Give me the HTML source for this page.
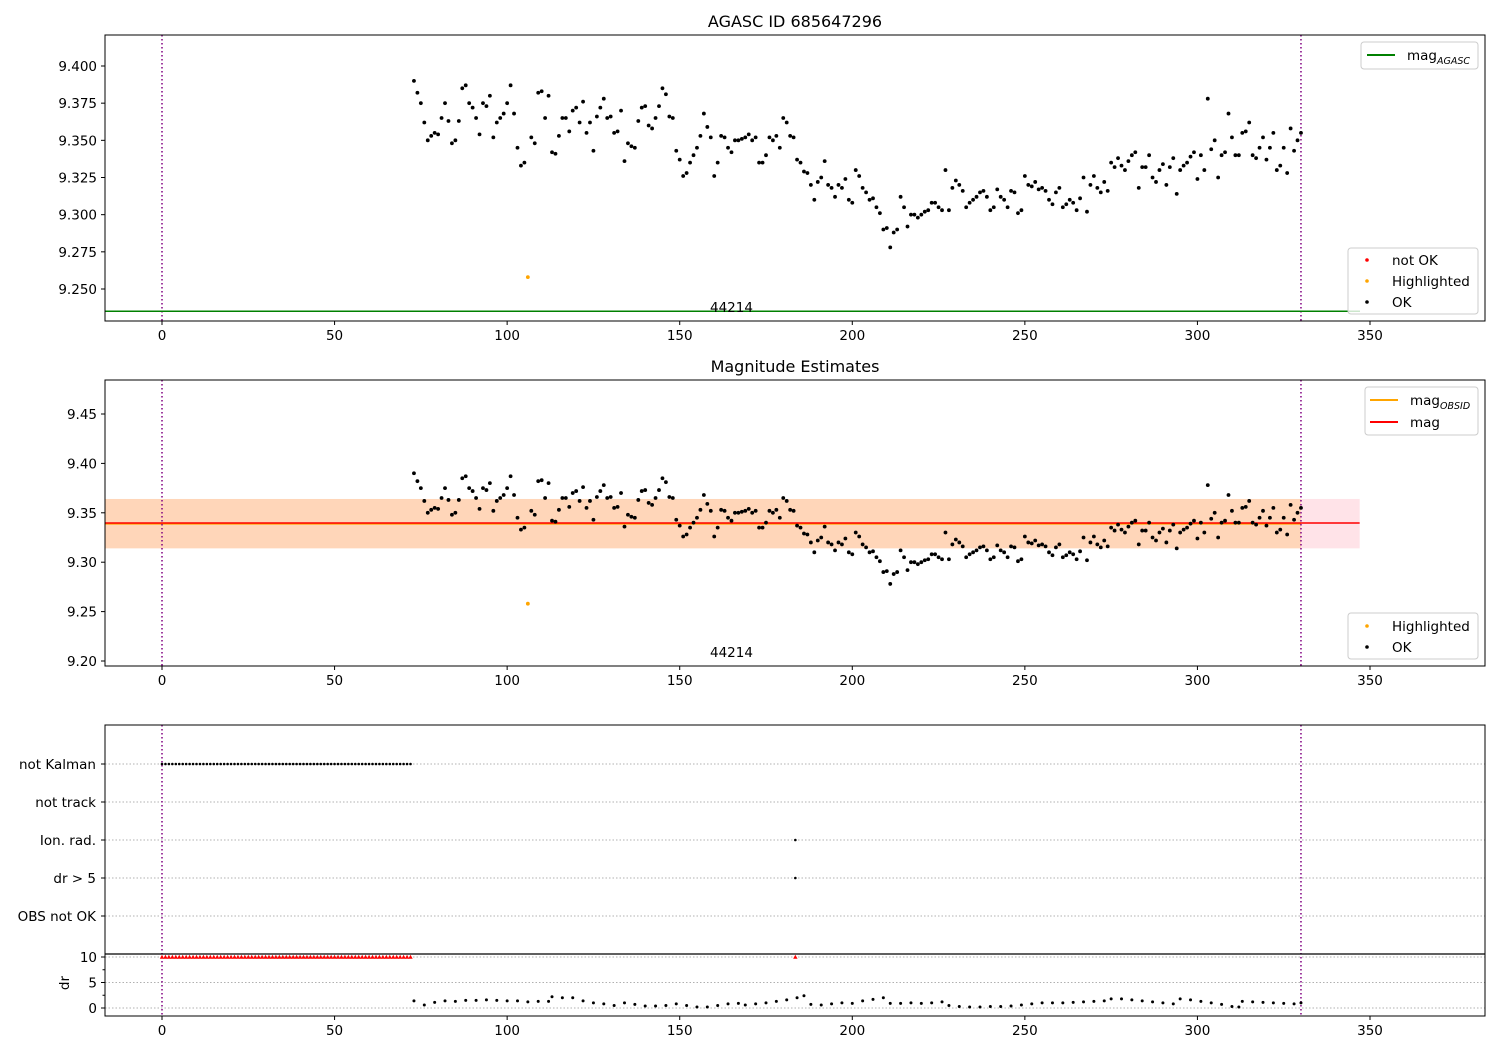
<!DOCTYPE html>
<html><head><meta charset="utf-8"><style>
body{margin:0;background:#fff}
svg{font-family:"DejaVu Sans","Liberation Sans",sans-serif;display:block}
</style></head><body>
<svg id="c" width="1500" height="1050" xmlns="http://www.w3.org/2000/svg"></svg>
<script>
const magTimes=[73,75,77,79,81,83,85,87,89,91,93,95,97,99,101,103,105,107,109,111,113,115,117,119,121,123,125,127,129,131,133,135,137,139,141,143,145,147,149,151,153,155,157,159,161,163,165,167,169,171,173,175,177,179,181,183,185,187,189,191,193,195,197,199,201,203,205,207,209,211,213,215,217,219,221,223,225,227,229,231,233,235,237,239,241,243,245,247,249,251,253,255,257,259,261,263,265,267,269,271,273,275,277,279,281,283,285,287,289,291,293,295,297,299,301,303,305,307,309,311,313,315,317,319,321,323,325,327,329];
const magValues=[9.390,9.375,9.350,9.355,9.365,9.363,9.350,9.385,9.375,9.365,9.375,9.380,9.362,9.368,9.387,9.345,9.335,9.352,9.382,9.365,9.342,9.353,9.365,9.370,9.362,9.355,9.343,9.372,9.365,9.355,9.370,9.348,9.345,9.372,9.360,9.365,9.385,9.366,9.343,9.326,9.335,9.345,9.368,9.352,9.335,9.352,9.342,9.350,9.352,9.350,9.335,9.340,9.350,9.345,9.362,9.352,9.335,9.328,9.310,9.325,9.320,9.312,9.318,9.310,9.330,9.318,9.310,9.305,9.290,9.278,9.290,9.305,9.300,9.298,9.302,9.308,9.305,9.330,9.318,9.320,9.305,9.310,9.315,9.312,9.305,9.312,9.305,9.315,9.303,9.320,9.322,9.318,9.310,9.315,9.305,9.310,9.303,9.325,9.320,9.318,9.322,9.335,9.338,9.330,9.340,9.318,9.332,9.325,9.330,9.320,9.338,9.330,9.335,9.342,9.340,9.378,9.350,9.340,9.368,9.340,9.355,9.362,9.338,9.352,9.345,9.330,9.345,9.358,9.350];
const magTimes2=[74,76,78,80,82,84,86,88,90,92,94,96,98,100,102,104,108,110,112,114,116,118,120,122,124,126,128,130,132,134,136,138,140,142,144,146,148,150,152,154,156,158,160,162,164,166,168,170,172,174,176,178,180,182,184,186,188,190,192,194,196,198,200,202,204,206,208,210,212,214,216,218,220,222,224,226,228,230,232,234,236,238,240,242,244,246,248,250,252,254,256,258,260,262,264,266,268,270,272,274,276,278,280,282,284,286,288,290,292,294,296,298,300,302,304,306,308,310,312,314,316,318,320,322,324,326,328,330];
const magValues2=[9.382,9.362,9.353,9.354,9.375,9.348,9.363,9.387,9.372,9.354,9.373,9.352,9.365,9.375,9.368,9.333,9.348,9.383,9.380,9.341,9.365,9.356,9.372,9.376,9.362,9.366,9.378,9.366,9.356,9.336,9.346,9.363,9.373,9.358,9.373,9.381,9.365,9.337,9.328,9.340,9.353,9.359,9.326,9.353,9.345,9.350,9.351,9.354,9.352,9.335,9.352,9.353,9.365,9.353,9.337,9.329,9.320,9.322,9.336,9.318,9.320,9.324,9.308,9.326,9.315,9.311,9.301,9.291,9.288,9.312,9.292,9.300,9.300,9.303,9.308,9.303,9.303,9.323,9.316,9.308,9.312,9.316,9.303,9.317,9.310,9.316,9.301,9.326,9.319,9.317,9.316,9.307,9.318,9.307,9.308,9.311,9.302,9.326,9.315,9.316,9.332,9.333,9.336,9.342,9.332,9.340,9.322,9.334,9.332,9.314,9.333,9.339,9.324,9.330,9.344,9.325,9.342,9.352,9.340,9.356,9.340,9.345,9.337,9.355,9.333,9.328,9.343,9.355];
const hlTimes=[106], hlValues=[9.258];
const drTimes=[73,76,79,82,85,88,91,94,97,100,103,106,109,112,113,116,119,122,125,128,131,134,137,140,143,146,149,152,155,158,161,164,167,169,172,175,178,181,184,186,188,191,194,197,200,203,206,209,211,214,217,220,223,226,228,231,234,237,240,243,246,249,252,255,258,261,264,267,270,273,275,278,281,284,287,290,293,295,298,301,304,307,310,312,313,316,319,322,325,328,330];
const drValues=[1.4,0.6,1.1,1.4,1.3,1.5,1.5,1.6,1.5,1.4,1.4,1.2,1.3,1.3,2.2,2.0,2.0,1.4,1.0,0.8,0.5,1.0,0.7,0.4,0.4,0.5,0.8,0.5,0.2,0.2,0.5,0.8,0.9,0.6,0.8,1.0,1.3,1.6,2.0,2.4,0.7,0.6,0.8,1.0,0.9,1.4,1.7,2.0,0.9,0.9,1.0,0.9,1.0,1.2,0.5,0.3,0.2,0.2,0.3,0.3,0.4,0.6,0.8,1.0,1.0,1.0,1.1,1.2,1.3,1.4,1.8,1.8,1.6,1.4,1.2,1.0,0.8,1.8,1.6,1.3,1.0,0.7,0.3,0.2,1.3,1.2,1.1,1.0,0.9,0.8,1.0];
const flagLabels=["not Kalman","not track","Ion. rad.","dr > 5","OBS not OK"];
const xTicks=[0,50,100,150,200,250,300,350];
const yTicks1=[9.250,9.275,9.300,9.325,9.350,9.375,9.400];
const yTicks2=[9.20,9.25,9.30,9.35,9.40,9.45];
const drTicks=[0,5,10];
const magAgasc=9.235, magMean=9.3397, magObsid=9.339, bandLo=9.314, bandHi=9.364, bandEnd=347;
const obsStart=0, obsEnd=330, obsid="44214";

const svg=document.getElementById('c');
const NS="http://www.w3.org/2000/svg";
function mk(t,a,p){const e=document.createElementNS(NS,t);for(const k in a)e.setAttribute(k,a[k]);(p||svg).appendChild(e);return e;}
const X0=105,X1=1485;
const xs=v=>162+v*(1370-162)/350;
function lin(d0,d1,p0,p1){return v=>p0+(v-d0)*(p1-p0)/(d1-d0);}
const y1=lin(9.250,9.400,289,66);
const y2=lin(9.20,9.45,661,414);
const yd=lin(0,10,1008,957);
const flagY=[764,802,840,878,916];
const FS=13.5;

function xaxis(yb){
  xTicks.forEach(t=>{const g=mk('g',{});
    mk('line',{x1:xs(t),x2:xs(t),y1:yb,y2:yb+4,stroke:'#000'},g);
    const tx=mk('text',{x:xs(t),y:yb+19,'font-size':FS,'text-anchor':'middle'},g);tx.textContent=t;});
}
function yaxisTicks(ticks,f,fmt,name){
  ticks.forEach(t=>{const g=mk('g',{});
    mk('line',{x1:X0-4,x2:X0,y1:f(t),y2:f(t),stroke:'#000'},g);
    const tx=mk('text',{x:X0-8,y:f(t)+5,'font-size':FS,'text-anchor':'end'},g);tx.textContent=fmt(t);});
}
function frame(top,bot,name){const r=mk('rect',{x:X0,y:top,width:X1-X0,height:bot-top,fill:'none',stroke:'#000','stroke-width':1});}
function vlines(top,bot){[obsStart,obsEnd].forEach(t=>{const l=mk('line',{x1:xs(t),x2:xs(t),y1:top,y2:bot,stroke:'#800080','stroke-width':1.5,'stroke-dasharray':'1.5,2.5'});});}
function dots(times,vals,f,col,r,name){const g=mk('g',{});
  times.forEach((t,i)=>mk('circle',{cx:xs(t),cy:f(vals[i]),r:r,fill:col},g));}
function title(txt,y,name){const t=mk('text',{x:795,y:y,'font-size':16,'text-anchor':'middle'});t.textContent=txt;}
function legendBox(x,y,w,h,name){const r=mk('rect',{x:x,y:y,width:w,height:h,rx:3,fill:'#fff','fill-opacity':0.8,stroke:'#ccc'});}
function legLine(x,y,col,label,sub,name){const g=mk('g',{});
  mk('line',{x1:x,x2:x+28,y1:y,y2:y,stroke:col,'stroke-width':2},g);
  const t=mk('text',{x:x+40,y:y+5,'font-size':FS},g);t.textContent=label;
  if(sub){const s=mk('tspan',{'font-size':9.5,'font-style':'italic',dy:4},t);s.textContent=sub;}}
function legDot(x,y,col,label,name){const g=mk('g',{});
  mk('circle',{cx:x+19,cy:y,r:1.8,fill:col},g);
  const t=mk('text',{x:x+44,y:y+5,'font-size':FS},g);t.textContent=label;}
function obsText(y){const t=mk('text',{x:xs(165),y:y,'font-size':FS,'text-anchor':'middle'});t.textContent=obsid;}

// Panel 1
title("AGASC ID 685647296",27,'panel1-title');
vlines(35,321);
const ag=mk('line',{x1:X0,x2:1360,y1:y1(magAgasc),y2:y1(magAgasc),stroke:'#008000','stroke-width':1.5});
dots(magTimes,magValues,y1,'#000',1.9,'ok-points-panel1');
dots(magTimes2,magValues2,y1,'#000',1.9,'ok-points-panel1b');
dots(hlTimes,hlValues,y1,'orange',1.9,'highlighted-points-panel1');
obsText(312);
frame(35,321,'panel1-axes');
xaxis(321);yaxisTicks(yTicks1,y1,v=>v.toFixed(3),'y1-tick');
legendBox(1361,42,117,27,'legend-agasc');legLine(1367,55,'#008000','mag','AGASC','legend-entry-mag-agasc');
legendBox(1348,248,130,66,'legend-status-panel1');
legDot(1348,260,'red','not OK','legend-entry-not-ok');legDot(1348,281,'orange','Highlighted','legend-entry-highlighted');legDot(1348,302,'#000','OK','legend-entry-ok');

// Panel 2
title("Magnitude Estimates",372,'panel2-title');
const band=mk('rect',{x:X0,y:y2(bandHi),width:xs(bandEnd)-X0,height:y2(bandLo)-y2(bandHi),fill:'#ffc0cb','fill-opacity':0.45});
const band2=mk('rect',{x:X0,y:y2(bandHi),width:xs(obsEnd)-X0,height:y2(bandLo)-y2(bandHi),fill:'#ffa500','fill-opacity':0.2});
const ol=mk('line',{x1:X0,x2:xs(obsEnd),y1:y2(magObsid),y2:y2(magObsid),stroke:'orange','stroke-width':2});
const rl=mk('line',{x1:X0,x2:xs(bandEnd),y1:y2(magMean),y2:y2(magMean),stroke:'red','stroke-width':1.5});
vlines(380,666);
dots(magTimes,magValues,y2,'#000',1.9,'ok-points-panel2');
dots(magTimes2,magValues2,y2,'#000',1.9,'ok-points-panel2b');
dots(hlTimes,hlValues,y2,'orange',1.9,'highlighted-points-panel2');
obsText(657);
frame(380,666,'panel2-axes');
xaxis(666);yaxisTicks(yTicks2,y2,v=>v.toFixed(2),'y2-tick');
legendBox(1365,387,113,48,'legend-mag');legLine(1370,400,'orange','mag','OBSID','legend-entry-mag-obsid');legLine(1370,422,'red','mag','','legend-entry-mag');
legendBox(1348,613,130,46,'legend-status-panel2');
legDot(1348,626,'orange','Highlighted','legend-entry-highlighted-2');legDot(1348,647,'#000','OK','legend-entry-ok-2');

// Panel 3 flags
flagY.forEach((y,i)=>{const g=mk('g',{});
  mk('line',{x1:X0,x2:X1,y1:y,y2:y,stroke:'#b0b0b0','stroke-dasharray':'1.5,2'},g);
  mk('line',{x1:X0-4,x2:X0,y1:y,y2:y,stroke:'#000'},g);
  const t=mk('text',{x:X0-9,y:y+5,'font-size':FS,'text-anchor':'end'},g);t.textContent=flagLabels[i];});
drTicks.forEach(t=>{const l=mk('line',{x1:X0,x2:X1,y1:yd(t),y2:yd(t),stroke:'#b0b0b0','stroke-dasharray':'1.5,2'});});
[2.5,7.5].forEach(t=>mk('line',{x1:X0-2.5,x2:X0,y1:yd(t),y2:yd(t),stroke:'#000'}));
yaxisTicks(drTicks,yd,v=>v,'dr-tick');
const dl=mk('text',{x:0,y:0,'font-size':FS,'text-anchor':'middle',transform:'translate(69,983) rotate(-90)'});dl.textContent='dr';
vlines(725,1016);
const kal=[];for(let t=0;t<=72;t++){kal.push(t);}
const kg=mk('g',{});
kal.forEach(t=>mk('circle',{cx:xs(t),cy:flagY[0],r:1.3,fill:'#000'},kg));
const ig=mk('g',{});
mk('circle',{cx:xs(183.5),cy:flagY[2],r:1.3,fill:'#000'},ig);mk('circle',{cx:xs(183.5),cy:flagY[3],r:1.3,fill:'#000'},ig);
const rg=mk('g',{});
kal.concat([183.5]).forEach(t=>{const x=xs(t),y=yd(10);mk('path',{d:`M${x-2.2},${y+1.8}L${x},${y-2.2}L${x+2.2},${y+1.8}Z`,fill:'red'},rg);});
dots(drTimes,drValues,yd,'#000',1.5,'dr-points');
const sep=mk('line',{x1:X0,x2:X1,y1:954,y2:954,stroke:'#000','stroke-width':1.2});
frame(725,1016,'panel3-axes');
xaxis(1016);
</script>
</body></html>
